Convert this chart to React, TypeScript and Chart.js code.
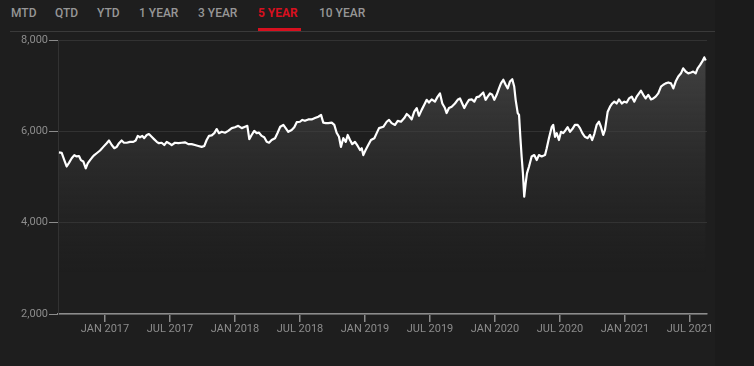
import { useEffect, useRef } from 'react';
import { Chart, registerables } from 'chart.js';

Chart.register(...registerables);

// Time as years since JAN 2017
const yearOffsets = [
  -0.354, -0.333, -0.313, -0.295, -0.277, -0.256, -0.236, -0.218, -0.2, -0.185,
  -0.167, -0.148, -0.133, -0.115, -0.098, -0.082, -0.064, -0.038, -0.013, 0.013,
  0.031, 0.052, 0.072, 0.09, 0.108, 0.128, 0.146, 0.167, 0.192, 0.218,
  0.236, 0.252, 0.269, 0.287, 0.302, 0.321, 0.338, 0.359, 0.377, 0.398,
  0.415, 0.436, 0.456, 0.475, 0.492, 0.513, 0.538, 0.564, 0.59, 0.615,
  0.641, 0.667, 0.692, 0.718, 0.744, 0.764, 0.782, 0.8, 0.821, 0.841,
  0.859, 0.877, 0.898, 0.923, 0.948, 0.975, 1.0, 1.025, 1.052, 1.077,
  1.095, 1.11, 1.128, 1.148, 1.167, 1.185, 1.205, 1.225, 1.244, 1.262,
  1.282, 1.308, 1.328, 1.348, 1.372, 1.39, 1.41, 1.436, 1.456, 1.475,
  1.5, 1.518, 1.538, 1.564, 1.59, 1.615, 1.641, 1.662, 1.679, 1.698,
  1.718, 1.744, 1.764, 1.782, 1.8, 1.815, 1.833, 1.852, 1.867, 1.885,
  1.902, 1.923, 1.944, 1.962, 1.975, 1.987, 2.005, 2.025, 2.046, 2.072,
  2.09, 2.108, 2.141, 2.167, 2.185, 2.205, 2.231, 2.252, 2.277, 2.302,
  2.321, 2.338, 2.359, 2.379, 2.398, 2.415, 2.436, 2.456, 2.475, 2.492,
  2.513, 2.538, 2.559, 2.577, 2.595, 2.615, 2.628, 2.646, 2.667, 2.692,
  2.713, 2.731, 2.748, 2.764, 2.782, 2.8, 2.821, 2.841, 2.859, 2.877,
  2.892, 2.91, 2.928, 2.944, 2.962, 2.979, 2.995, 3.013, 3.031, 3.046,
  3.064, 3.082, 3.098, 3.115, 3.133, 3.148, 3.159, 3.175, 3.185, 3.195,
  3.205, 3.215, 3.225, 3.236, 3.246, 3.262, 3.282, 3.302, 3.321, 3.338,
  3.359, 3.385, 3.398, 3.415, 3.436, 3.448, 3.462, 3.475, 3.492, 3.508,
  3.525, 3.544, 3.559, 3.577, 3.595, 3.615, 3.636, 3.654, 3.672, 3.692,
  3.713, 3.731, 3.748, 3.764, 3.782, 3.8, 3.815, 3.833, 3.846, 3.867,
  3.885, 3.902, 3.918, 3.936, 3.954, 3.975, 3.995, 4.013, 4.031, 4.052,
  4.072, 4.09, 4.108, 4.123, 4.141, 4.159, 4.179, 4.2, 4.218, 4.236,
  4.256, 4.277, 4.295, 4.313, 4.333, 4.354, 4.372, 4.39, 4.41, 4.431,
  4.448, 4.467, 4.487, 4.508, 4.525, 4.544, 4.559, 4.577, 4.595, 4.61,
  4.621,
];

const closeValues = [
  5540, 5530, 5370, 5230, 5310, 5410, 5480, 5450, 5460, 5370,
  5340, 5190, 5300, 5370, 5430, 5480, 5520, 5580, 5660, 5740,
  5800, 5700, 5630, 5660, 5740, 5800, 5750, 5750, 5770, 5770,
  5800, 5900, 5870, 5900, 5850, 5920, 5940, 5880, 5830, 5770,
  5740, 5750, 5700, 5770, 5740, 5700, 5750, 5740, 5750, 5760,
  5720, 5720, 5700, 5680, 5660, 5680, 5810, 5900, 5910, 5960,
  6050, 5960, 5990, 5970, 6010, 6070, 6090, 6120, 6070, 6100,
  6120, 5830, 5920, 6010, 5960, 5970, 5900, 5870, 5770, 5750,
  5810, 5850, 5970, 6100, 6140, 6070, 5990, 6030, 6090, 6200,
  6210, 6250, 6230, 6260, 6260, 6290, 6320, 6360, 6190, 6180,
  6180, 6190, 6140, 5970, 5880, 5660, 5850, 5770, 5920, 5810,
  5720, 5770, 5680, 5590, 5630, 5480, 5590, 5700, 5810, 5850,
  5960, 6070, 6100, 6210, 6250, 6180, 6140, 6230, 6210, 6290,
  6380, 6340, 6260, 6430, 6510, 6340, 6470, 6580, 6690, 6630,
  6700, 6650, 6760, 6830, 6610, 6510, 6400, 6510, 6540, 6610,
  6690, 6720, 6610, 6510, 6610, 6690, 6700, 6650, 6750, 6760,
  6800, 6850, 6690, 6760, 6830, 6800, 6690, 6800, 6940, 7050,
  7130, 7020, 6940, 7090, 7140, 6980, 6690, 6400, 6360, 5880,
  5450, 5080, 4570, 4860, 5080, 5230, 5450, 5480, 5370, 5480,
  5450, 5480, 5630, 5850, 6090, 6140, 5880, 5960, 5810, 5990,
  5960, 6030, 6090, 5990, 6050, 6140, 6140, 6070, 5960, 5880,
  5850, 5920, 5810, 5940, 6140, 6210, 6100, 5920, 6030, 6430,
  6540, 6610, 6650, 6610, 6700, 6610, 6650, 6630, 6720, 6760,
  6650, 6760, 6830, 6890, 6800, 6720, 6800, 6700, 6720, 6760,
  6830, 6980, 7020, 7050, 7070, 7050, 6940, 7090, 7200, 7270,
  7380, 7310, 7270, 7290, 7310, 7270, 7380, 7450, 7530, 7620,
  7550,
];

const xTickPositions = [0, 0.5, 1, 1.5, 2, 2.5, 3, 3.5, 4, 4.5];
const xTickLabels = [
  'JAN 2017', 'JUL 2017', 'JAN 2018', 'JUL 2018', 'JAN 2019',
  'JUL 2019', 'JAN 2020', 'JUL 2020', 'JAN 2021', 'JUL 2021',
];
const yTickValues = [2000, 4000, 6000, 8000];

const tabLabels = ['MTD', 'QTD', 'YTD', '1 YEAR', '3 YEAR', '5 YEAR', '10 YEAR'];
const tabLefts = [11, 55, 97, 139, 198, 258, 319];
const activeTab = '5 YEAR';

export default function App() {
  const canvasRef = useRef<HTMLCanvasElement>(null);

  useEffect(() => {
    document.body.style.margin = '0';
    document.body.style.background = '#1e1e1e';
    const canvas = canvasRef.current;
    if (!canvas) return;
    const points = yearOffsets.map((x, i) => ({ x, y: closeValues[i] }));
    const chart = new Chart(canvas, {
      type: 'line',
      data: {
        datasets: [
          {
            data: points,
            borderColor: '#ffffff',
            borderWidth: 2.2,
            borderJoinStyle: 'round',
            pointRadius: 0,
            tension: 0,
            fill: 'start',
            backgroundColor: (c: any) => {
              const ch = c.chart;
              const area = ch.chartArea;
              if (!area) return 'rgba(64,64,64,0.5)';
              const g = ch.ctx.createLinearGradient(0, area.top, 0, area.bottom);
              g.addColorStop(0, 'rgba(70,70,70,1)');
              g.addColorStop(0.45, 'rgba(60,60,60,0.4)');
              g.addColorStop(0.85, 'rgba(50,50,50,0)');
              g.addColorStop(1, 'rgba(50,50,50,0)');
              return g;
            },
          },
        ],
      },
      options: {
        animation: false,
        responsive: false,
        layout: { padding: { top: 40, right: 47, left: 0, bottom: 0 } },
        plugins: { legend: { display: false }, tooltip: { enabled: false } },
        scales: {
          x: {
            type: 'linear',
            min: -0.3615,
            max: 4.631,
            afterBuildTicks: (s: any) => {
              s.ticks = xTickPositions.map((v) => ({ value: v }));
            },
            afterFit: (s: any) => {
              s.height = 52;
            },
            ticks: {
              autoSkip: false,
              maxRotation: 0,
              padding: 1,
              color: '#8c8c8c',
              font: { family: 'Roboto', size: 11 },
              callback: (v: any) => {
                const i = xTickPositions.indexOf(Number(v));
                return i >= 0 ? xTickLabels[i] : '';
              },
            },
            grid: {
              drawOnChartArea: false,
              drawTicks: true,
              tickLength: 8,
              color: '#8c8c8c',
              tickColor: '#8c8c8c',
              lineWidth: 1.5,
            },
            border: { display: true, color: '#8c8c8c', width: 1.5 },
          },
          y: {
            min: 2000,
            max: 8000,
            afterBuildTicks: (s: any) => {
              s.ticks = yTickValues.map((v) => ({ value: v }));
            },
            afterFit: (s: any) => {
              s.width = 58;
            },
            ticks: {
              padding: 1,
              color: '#8c8c8c',
              font: { family: 'Roboto', size: 11 },
              callback: (v: any) => Number(v).toLocaleString('en-US'),
            },
            grid: {
              color: '#323232',
              tickColor: '#8c8c8c',
              tickLength: 9,
              lineWidth: 1,
            },
            border: { display: true, color: '#323232', width: 1 },
          },
        },
      },
    } as any);
    return () => chart.destroy();
  }, []);

  return (
    <div
      style={{
        position: 'fixed',
        left: 0,
        top: 0,
        width: 754,
        height: 366,
        background: '#1e1e1e',
        overflow: 'hidden',
        fontFamily: 'Roboto, sans-serif',
      }}
    >
      <div
        style={{
          position: 'absolute',
          left: 715,
          top: 0,
          width: 39,
          height: 366,
          background: '#1b1b1b',
        }}
      />
      {tabLabels.map((t, i) => (
        <span
          key={t}
          style={{
            position: 'absolute',
            left: tabLefts[i],
            top: 5,
            fontSize: 12,
            lineHeight: '16px',
            fontWeight: t === activeTab ? 700 : 500,
            color: t === activeTab ? '#d7101f' : '#969696',
            whiteSpace: 'nowrap',
          }}
        >
          {t}
        </span>
      ))}
      <div
        style={{
          position: 'absolute',
          left: 258,
          top: 28,
          width: 43,
          height: 3,
          background: '#d7101f',
        }}
      />
      <div
        style={{
          position: 'absolute',
          left: 10,
          top: 31,
          width: 705,
          height: 1,
          background: '#3a3a3a',
        }}
      />
      <canvas
        ref={canvasRef}
        width={754}
        height={366}
        style={{ position: 'absolute', left: 0, top: 0 }}
      />
    </div>
  );
}
